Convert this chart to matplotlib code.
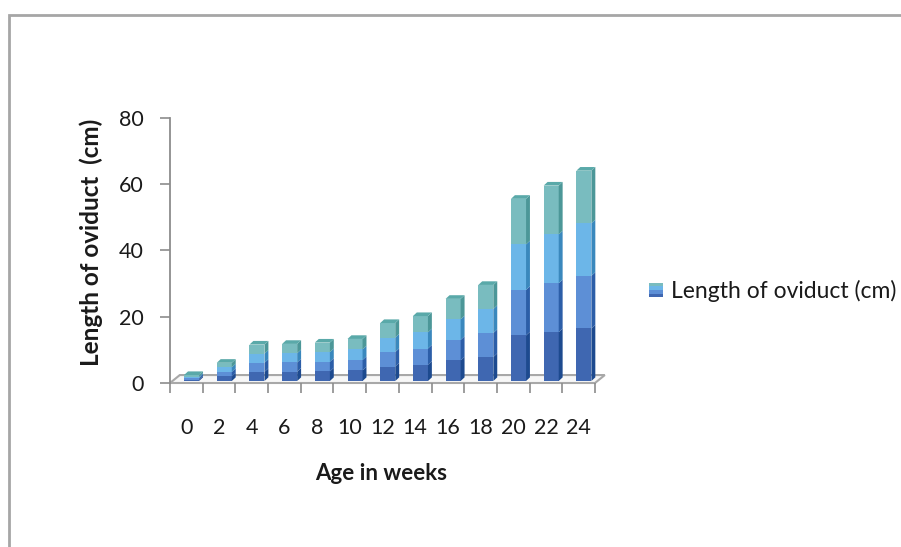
import matplotlib
matplotlib.use("Agg")
import numpy as np
import matplotlib.pyplot as plt
from matplotlib.patches import Polygon, Rectangle
from matplotlib.legend_handler import HandlerBase

# ---- data -------------------------------------------------------------
weeks = ["0", "2", "4", "6", "8", "10", "12", "14", "16", "18", "20", "22", "24"]
lengths = [1.8, 5.5, 11.0, 11.2, 11.6, 12.7, 17.5, 19.6, 24.8, 29.0, 55.0, 59.0, 63.5]
series_name = "Length of oviduct (cm)"
y_ticks = [0, 20, 40, 60, 80]
x_title = "Age in weeks"
y_title = "Length of oviduct  (cm)"

# ---- style ------------------------------------------------------------
plt.rcParams["font.family"] = ["Lato", "DejaVu Sans"]
front_cols = ["#3f67b1", "#5d8fd6", "#6cb6e8", "#79bcbf"]
side_cols = ["#1d4a8f", "#2c5ea8", "#3a88bd", "#4c9798"]
top_col = "#5aa9a9"
axis_grey = "#8c8c8c"
text_col = "#1a1a1a"

bar_w = 0.46      # width of the front face, in category units
shift_x = 0.16    # bars stand a little behind the front edge of the floor
base_y = 0.6
side_dx, side_dy = 0.12, 1.1   # depth of each bar
floor_dx, floor_dy = 0.30, 2.4  # depth of the floor

fig = plt.figure(figsize=(9.01, 5.47), dpi=100)
fig.patch.set_facecolor("white")

# chart-area border
fig.patches.append(Rectangle((8.5 / 901, -0.1), 2.0, 1.1 - 14.5 / 547,
                             transform=fig.transFigure, fill=False,
                             edgecolor="#a6a6a6", lw=2.0))

ax = fig.add_axes([170 / 901, 164 / 547, 425 / 901, 265 / 547])
n = len(weeks)
ax.set_xlim(-0.5, n - 0.5)
ax.set_ylim(0, 80)

# floor
floor = Polygon([(-0.5, 0), (n - 0.5, 0), (n - 0.5 + floor_dx, floor_dy),
                 (-0.5 + floor_dx, floor_dy)], closed=True,
                facecolor="#f7f7f7", edgecolor="#a8a8a8", lw=1.5,
                clip_on=False, zorder=1)
ax.add_patch(floor)

# bars: four shaded bands per column, with side and top faces
x = np.arange(n)
for i, v in enumerate(lengths):
    xc = x[i] + shift_x
    xl, xr = xc - bar_w / 2, xc + bar_w / 2
    seg = v / 4.0
    for k in range(4):
        y0 = base_y + k * seg
        ax.bar(xc, seg, bottom=y0, width=bar_w, color=front_cols[k],
               linewidth=0, zorder=3, clip_on=False)
        ax.add_patch(Polygon([(xr, y0), (xr + side_dx, y0 + side_dy),
                              (xr + side_dx, y0 + seg + side_dy), (xr, y0 + seg)],
                             closed=True, facecolor=side_cols[k], lw=0,
                             zorder=3, clip_on=False))
    top = base_y + v
    ax.add_patch(Polygon([(xl, top), (xr, top), (xr + side_dx, top + side_dy),
                          (xl + side_dx, top + side_dy)], closed=True,
                         facecolor=top_col, lw=0, zorder=3, clip_on=False))

# axes styling
for s in ("top", "right", "bottom"):
    ax.spines[s].set_visible(False)
ax.spines["left"].set_color(axis_grey)
ax.spines["left"].set_linewidth(1.3)
ax.set_yticks(y_ticks)
ax.set_yticklabels([str(t) for t in y_ticks])
ax.tick_params(axis="y", direction="out", length=7, width=1.2,
               color=axis_grey, pad=12, labelsize=15.5, labelcolor=text_col)
ax.set_xticks(x)
ax.set_xticklabels(weeks)
ax.tick_params(axis="x", which="major", length=0, pad=25,
               labelsize=15.5, labelcolor=text_col)
ax.set_xticks(np.arange(-0.5, n, 1.0), minor=True)
ax.tick_params(axis="x", which="minor", direction="out", length=7,
               width=1.2, color=axis_grey)

ax.set_xlabel(x_title, fontsize=16, fontweight="bold", color=text_col)
ax.xaxis.set_label_coords(0.496, -0.300)
ax.set_ylabel(y_title, fontsize=17.5, fontweight="bold", color=text_col)
ax.yaxis.set_label_coords(-0.158, 0.532)


# legend key drawn as the same four bands
class BandHandler(HandlerBase):
    def create_artists(self, legend, orig_handle, xdescent, ydescent,
                       width, height, fontsize, trans):
        arts = []
        h = height / 4.0
        for k in range(4):
            arts.append(Rectangle((-xdescent, -ydescent + k * h), width, h,
                                  facecolor=front_cols[k], lw=0,
                                  transform=trans))
        return arts


proxy = Rectangle((0, 0), 1, 1)
fig.legend([proxy], [series_name], handler_map={Rectangle: BandHandler()},
           loc="center left", bbox_to_anchor=(649 / 901, (547 - 291) / 547),
           frameon=False, fontsize=16.5, handlelength=0.6, handleheight=0.6,
           handletextpad=0.38, borderpad=0, borderaxespad=0, labelcolor=text_col)

fig.savefig("out.png", dpi=100, facecolor="white")
